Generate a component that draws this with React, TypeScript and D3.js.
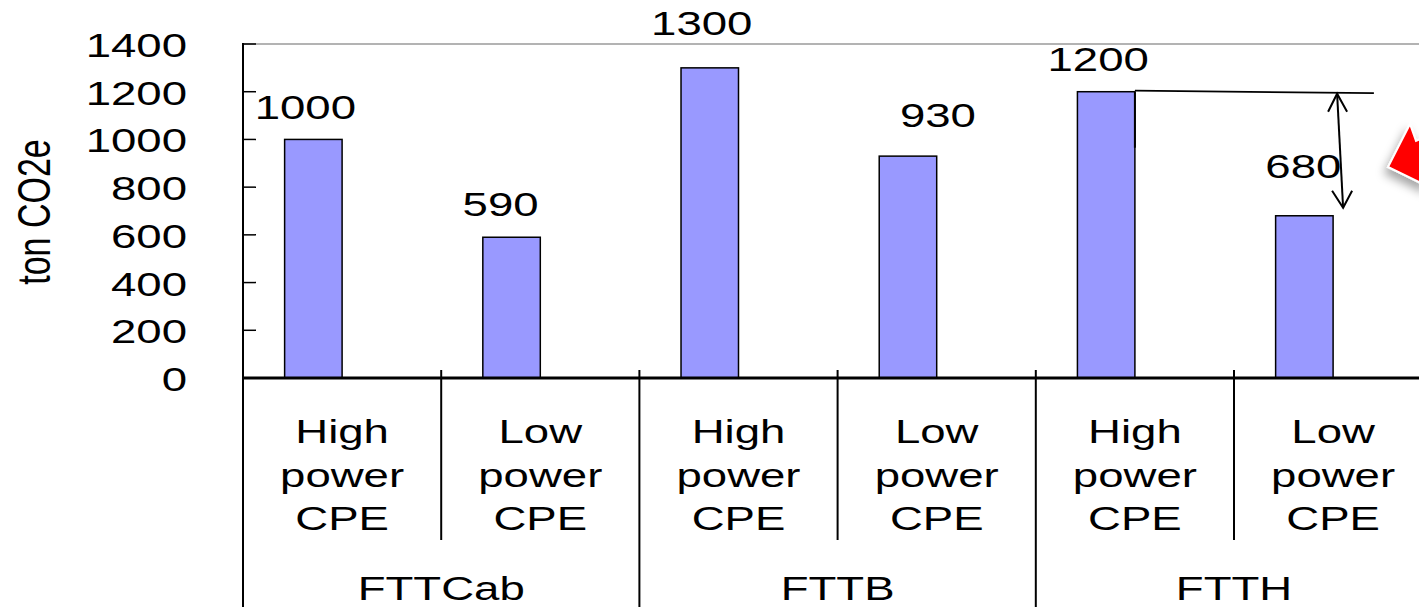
import React from "react";
import * as d3 from "d3";

const groups = ["FTTCab", "FTTB", "FTTH"];
const cpeTypes = [["High", "power", "CPE"], ["Low", "power", "CPE"]];
const values = [1000, 590, 1300, 930, 1200, 680];
const yTicks = [0, 200, 400, 600, 800, 1000, 1200, 1400];
const yLabel = "ton CO2e";

// manual label placement (offsets from bar top-center), as in the original
const labelDx = [-8, -11, -8, 30, -8, -1];
const labelDy = [-20, -21, -33, -29, -21, -38];

const W = 1419;
const H = 607;
const FONT = "'Liberation Sans', Arial, Helvetica, sans-serif";
const FS = 34;
const SX = 1.34;

function T({ x, y, text, anchor = "middle", rotate = 0 }: any) {
  return (
    <g transform={`translate(${x},${y}) scale(${SX},1)${rotate ? ` rotate(${rotate})` : ""}`}>
      <text x={0} y={0} textAnchor={anchor} fontFamily={FONT} fontSize={FS} fill="#000">
        {text}
      </text>
    </g>
  );
}

export default function App() {
  const cats = groups.flatMap((g) => cpeTypes.map((c) => `${g}|${c.join(" ")}`));
  const left = 243;
  const catW = 198.2;
  const x = d3.scaleBand<string>().domain(cats).range([left, left + catW * cats.length]).padding(0);
  const y = d3.scaleLinear().domain([0, 1400]).range([378, 44]);
  const bw = x.bandwidth() * 0.29;
  const groupW = x.bandwidth() * cpeTypes.length;

  const barRight = (i: number) => (x(cats[i]) as number) + x.bandwidth() / 2;

  // annotation geometry
  const y1200 = y(values[4]);
  const y680 = y(values[5]);
  const b5r = barRight(4);
  const b6r = barRight(5);
  const arTopX = b6r + 4;
  const arBotX = b6r + 10;
  const arTopY = y1200 + 2;
  const arBotY = y680 - 8;

  return (
    <svg width={W} height={H} style={{ position: "absolute", left: 0, top: 0, background: "#fff" }}>
      <defs>
        <filter id="sh" x="-50%" y="-50%" width="200%" height="200%">
          <feDropShadow dx="-3" dy="6" stdDeviation="5" floodColor="#000" floodOpacity="0.35" />
        </filter>
      </defs>
      <rect x={0} y={0} width={W} height={H} fill="#fff" />

      {/* top plot border */}
      <line x1={left} x2={W} y1={y(1400)} y2={y(1400)} stroke="#9a9a9a" strokeWidth={1.5} />

      {/* bars */}
      {values.map((v, i) => {
        const r = barRight(i);
        return (
          <rect
            key={i}
            x={r - bw}
            y={y(v)}
            width={bw}
            height={y(0) - y(v)}
            fill="#9999FF"
            stroke="#000"
            strokeWidth={1.5}
          />
        );
      })}

      {/* y ticks */}
      {yTicks.map((t) => (
        <g key={t}>
          <line x1={left} x2={left + 13} y1={y(t)} y2={y(t)} stroke="#000" strokeWidth={1.5} />
          <T x={187} y={y(t) + 13} text={String(t)} anchor="end" />
        </g>
      ))}

      {/* y axis line */}
      <line x1={left} x2={left} y1={y(1400) - 1} y2={H} stroke="#000" strokeWidth={2} />

      {/* x axis */}
      <line x1={left} x2={W} y1={y(0)} y2={y(0)} stroke="#000" strokeWidth={3} />

      {/* category dividers */}
      {cats.map((c, i) => {
        if (i === 0) return null;
        const xx = x(c) as number;
        const isGroup = i % cpeTypes.length === 0;
        return (
          <line
            key={c}
            x1={xx}
            x2={xx}
            y1={y(0) - 8}
            y2={isGroup ? H : 540}
            stroke="#000"
            strokeWidth={2}
          />
        );
      })}

      {/* category labels */}
      {cats.map((c, i) => {
        const cx = (x(c) as number) + x.bandwidth() / 2;
        const lines = cpeTypes[i % cpeTypes.length];
        return (
          <g key={c}>
            {lines.map((ln, k) => (
              <T key={k} x={cx} y={443 + k * 43.5} text={ln} />
            ))}
          </g>
        );
      })}

      {/* group labels */}
      {groups.map((g, gi) => (
        <T key={g} x={left + groupW * gi + groupW / 2} y={600} text={g} />
      ))}

      {/* value labels */}
      {values.map((v, i) => (
        <T key={i} x={barRight(i) - bw / 2 + labelDx[i]} y={y(v) + labelDy[i]} text={String(v)} />
      ))}

      {/* y axis title */}
      <T x={50} y={212} text={yLabel} rotate={-90} />

      {/* annotation: reference line and double arrow */}
      <line x1={b5r} x2={b5r} y1={y1200} y2={y1200 + 56} stroke="#000" strokeWidth={2} />
      <line x1={b5r} x2={b5r + 239} y1={y1200 - 1} y2={y1200 + 1.5} stroke="#000" strokeWidth={1.8} />
      <line x1={arTopX} x2={arBotX} y1={arTopY} y2={arBotY} stroke="#000" strokeWidth={2} />
      <polyline
        points={`${arTopX - 9},${arTopY + 18} ${arTopX},${arTopY} ${arTopX + 10},${arTopY + 18}`}
        fill="none"
        stroke="#000"
        strokeWidth={2}
      />
      <polyline
        points={`${arBotX - 11},${arBotY - 17} ${arBotX},${arBotY} ${arBotX + 9},${arBotY - 17}`}
        fill="none"
        stroke="#000"
        strokeWidth={2}
      />

      {/* red callout arrow (partially off-canvas) */}
      <polygon
        points={`${W - 9},124 ${W - 3},141 ${W + 6},137 ${W + 8},186 ${W - 31},167`}
        fill="#ff0000"
        stroke="#fff"
        strokeWidth={2}
        filter="url(#sh)"
      />
    </svg>
  );
}
